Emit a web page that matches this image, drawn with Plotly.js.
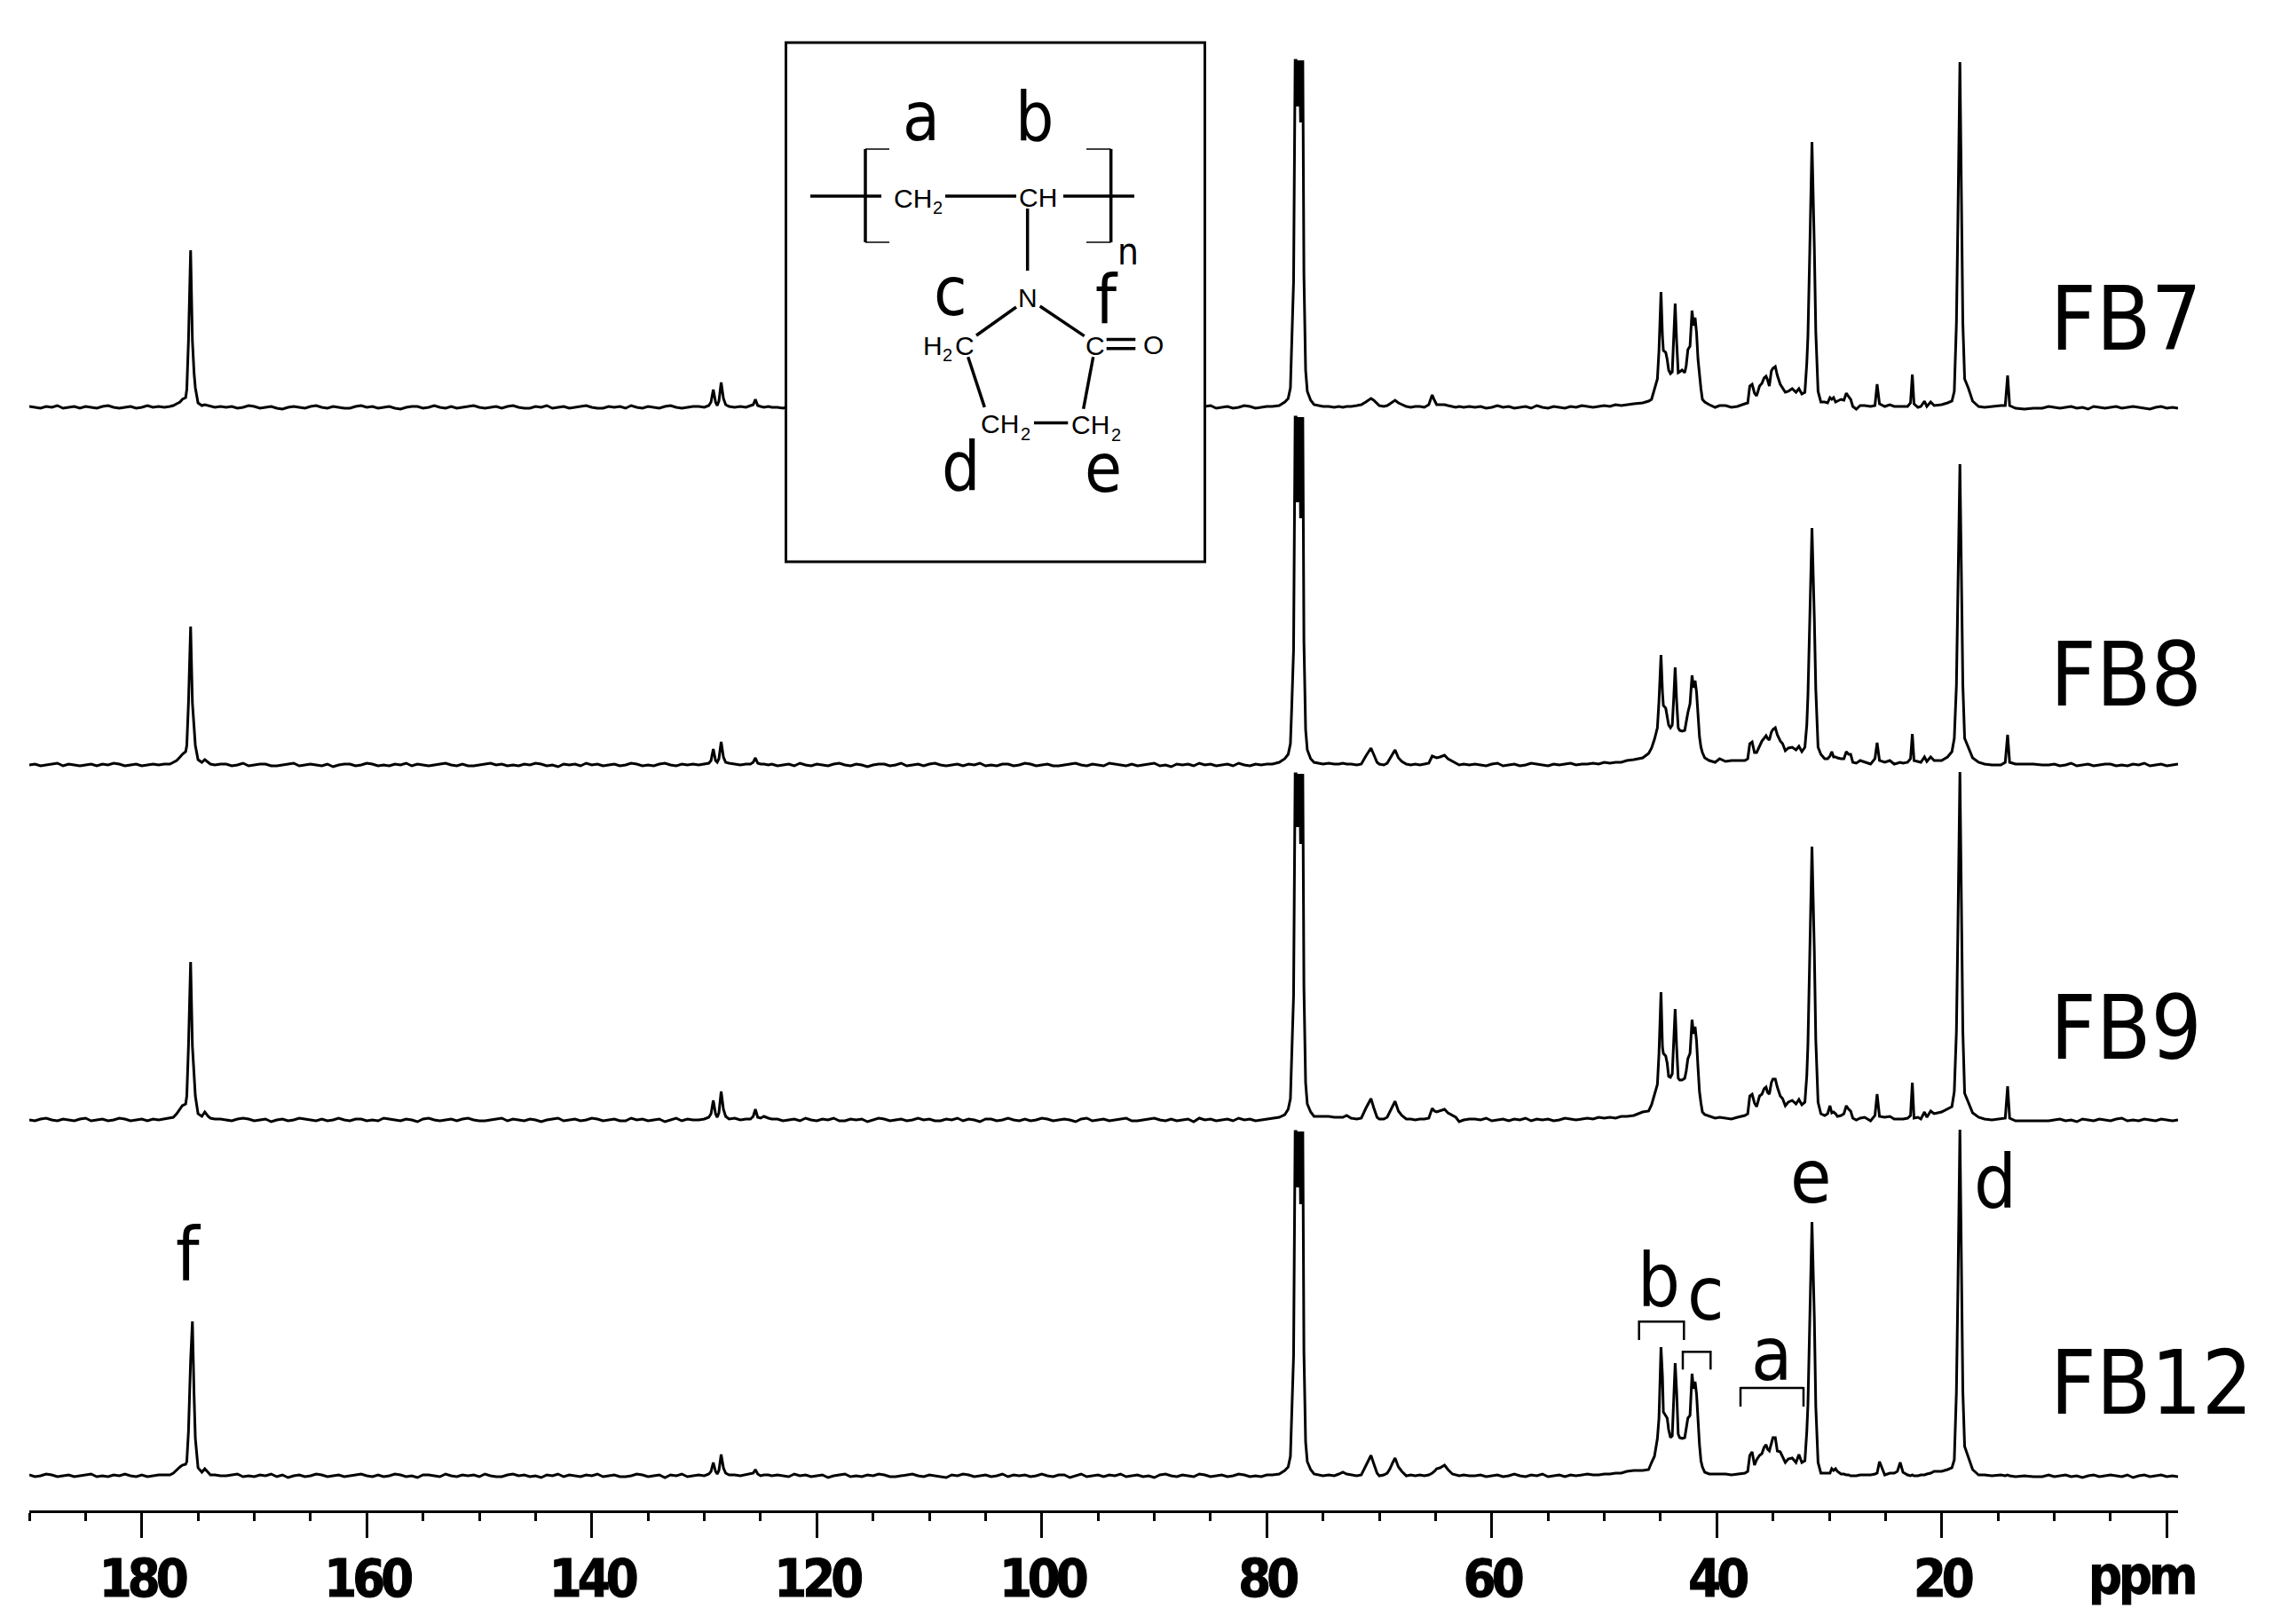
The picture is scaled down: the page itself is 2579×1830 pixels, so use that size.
<!DOCTYPE html>
<html>
<head>
<meta charset="utf-8">
<script src="https://cdn.plot.ly/plotly-3.0.1.min.js"></script>
<style>
html,body{margin:0;padding:0;background:#fff}
#chart{width:2579px;height:1830px}
.xtick text{letter-spacing:-5px;stroke:#000;stroke-width:1px}
</style>
</head>
<body>
<div id="chart"></div>
<script>
// ---- chemical shift grid, section by section (ppm) ----
const ppmA=[190,189.5,189,188.5,188,187.5,187,186.5,186,185.5,185,184.5,184,183.5,183,182.5,182,181.5,181,180.5,180,179.5,179,178.5,178];
const ppmF=[177.5,177.2,176.9,176.6,176.4,176.1,176.0,175.85,175.66,175.5,175.35,175.24,175.0,174.66,174.4,174.1,173.9,173.5,173];
const ppmB=[172.5,172,171.5,171,170.5,170,169.5,169,168.5,168,167.5,167,166.5,166,165.5,165,164.5,164,163.5,163,162.5,162,161.5,161,160.5,160,159.5,159,158.5,158,157.5,157,156.5,156,155.5,155,154.5,154,153.5,153,152.5,152,151.5,151,150.5,150,149.5,149,148.5,148,147.5,147,146.5,146,145.5,145,144.5,144,143.5,143,142.5,142,141.5,141,140.5,140,139.5,139,138.5,138,137.5,137,136.5,136,135.5,135,134.5,134,133.5,133,132.5,132,131.5,131];
const ppmAr=[130.5,130,129.6,129.4,129.2,129.0,128.85,128.7,128.5,128.3,128.1,127.8,127.3,126.8,126.3,125.9,125.65,125.46,125.25,125,124.7,124.3,124];
const ppmC=[123.5,123,122.5,122,121.5,121,120.5,120,119.5,119,118.5,118,117.5,117,116.5,116,115.5,115,114.5,114,113.5,113,112.5,112,111.5,111,110.5,110,109.5,109,108.5,108,107.5,107,106.5,106,105.5,105,104.5,104,103.5,103,102.5,102,101.5,101,100.5,100,99.5,99,98.5,98,97.5,97,96.5,96,95.5,95,94.5,94,93.5,93,92.5,92,91.5,91,90.5,90,89.5,89,88.5,88,87.5,87,86.5,86,85.5,85,84.5,84,83.5,83,82.5,82,81.5,81,80.5,80];
const ppmS=[79.5,78.9,78.4,78.1,77.9,77.78,77.62,77.48,77.40,77.32,77.24,77.16,77.08,77.0,76.92,76.86,76.80,76.7,76.55,76.4,76.1,75.8,75.4,75];
const ppmM=[74.5,74,73.6,73.24,72.9,72.5,72,71.6,71.2,70.95,70.74,70.5,70.2,70,69.6,69.3,69.05,68.8,68.6,68.3,68,67.6,67.2,66.8,66.4,66,65.6,65.3,65.1,64.9,64.6,64.2,63.9,63.5,63.2,62.9,62.5,62];
const ppmD=[61.5,61,60.5,60,59.5,59,58.5,58,57.5,57,56.5,56,55.5,55,54.5,54,53.5,53,52.5,52,51.5,51,50.5,50,49.5,49,48.5,48];
const ppmP=[47.38,46.59,46.06,45.80,45.54,45.28,45.14,44.96,44.83,44.75,44.54,44.41,44.28,44.12,43.96,43.83,43.70,43.57,43.43,43.30,43.09,42.85,42.72,42.57,42.38,42.20,42.07,41.93,41.80,41.67,41.54,41.41,41.28,41.07,40.67,40.15,39.75,39.22,38.70,38.17];
const ppmQ=[37.51,37.25,37.07,36.86,36.65,36.46,36.20,35.99,35.80,35.62,35.49,35.33,35.15,35.01,34.80,34.62,34.36,34.15,33.91,33.65,33.30,32.96,32.70,32.44];
const ppmE=[32.17,32.0,31.9,31.73,31.54,31.33,31.2,31.0,30.75,30.41,30.15,29.94,29.78,29.62,29.44,29.28,28.96,28.70,28.49,28.28,28.10,27.91,27.60,27.25,26.86,26.33,25.94,25.75,25.54,25.07,24.62,24.23,23.95,23.70,23.45,23.04,22.78,22.62,22.47,22.12,21.86,21.54,21.33,20.99,20.68,20.02,19.49,19.10];
const ppmG=[18.89,18.70,18.57,18.39,18.23,18.13,17.97,17.65,17.26,16.73,16.20,15.55,14.76,14.36,14.15,13.97,13.44,12.65,11.86,11.07];
const ppmZ=[10.5,10,9.5,9,8.5,8,7.5,7,6.5,6,5.5,5,4.5,4,3.5,3,2.5,2,1.5,1,0.5,0,-0.5,-1];

// ---- FB7 intensities ----
const fb7A=[1,0,-1,1,0,2,-1,0,1,-1,1,0,-1,1,2,0,-1,0,1,-1,0,2,0,1,0];
const fb7F=[1,2,4,6,9,11,20,75,177,75,38,22,5,2,3,2,1,0,1];
const fb7B=[0,1,-1,0,2,1,-1,0,1,-1,-2,0,1,0,-1,1,2,0,-1,1,0,-1,-1,1,2,0,1,-1,0,1,-1,-2,0,1,1,-1,0,2,0,-1,1,-1,0,1,2,0,-1,0,1,-1,1,2,0,-1,-1,1,0,2,-1,0,1,-1,0,1,2,0,-1,-1,1,0,1,-1,2,0,-1,1,0,-1,1,2,0,-1,0,1];
const fb7Ar=[1,0,2,6,20,6,2,7,28,10,3,1,0,1,0,2,3,9,2,1,0,1,0];
const fb7C=[0,-1,1,2,0,-1,1,-1,0,1,-1,-2,0,1,1,-1,0,2,1,-1,0,-1,1,0,2,0,-1,1,-1,0,1,2,-1,0,1,-1,-1,1,0,2,1,-1,0,1,-1,0,2,0,-1,1,1,-1,0,-2,1,0,2,-1,0,1,-1,1,0,2,0,-1,1,-1,0,1,2,-1,0,-1,1,0,1,2,-1,0,1,-1,0,2,1,-1,0,1];
const fb7S=[1,2,6,10,22,70,142,391,391,339,391,339,391,321,391,321,391,150,42,18,8,3,2,1];
const fb7M=[1,0,1,0,1,1,2,3,6,8,10,8,4,2,1,2,4,6,8,5,3,1,0,1,1,0,3,14,8,3,3,3,2,1,0,1,0,1];
const fb7D=[0,1,-1,0,2,0,1,-1,0,1,-1,2,0,-1,1,0,-1,1,0,2,1,0,1,2,1,3,2,3];
const fb7P=[4,5,7,9,21,32,64,130,80,64,62,54,42,38,40,74,117,74,39,40,42,39,47,65,69,109,92,101,84,54,34,21,9,6,3,0,2,2,0,1];
const fb7Q=[4,5,24,26,16,13,24,27,33,35,31,24,41,44,46,36,26,22,17,18,21,17,21,15];
const fb7E=[17,50,80,180,299,180,85,18,6,6,5,11,9,11,6,7,9,8,16,12,9,1,-2,2,2,1,2,26,4,1,3,1,1,1,1,1,5,37,4,0,1,7,1,6,2,3,5,7];
const fb7G=[18,95,210,389,210,95,32,22,7,1,0,1,2,2,36,2,-1,-2,-1,-1];
const fb7Z=[1,0,-1,0,1,-1,0,-2,1,0,-1,0,1,-1,0,1,0,-1,-2,0,1,-1,0,-1];

// ---- FB8 intensities ----
const fb8A=[0,1,-1,0,1,2,-1,1,0,-1,0,1,-1,1,0,2,1,-1,0,1,-1,0,1,0,1];
const fb8F=[1,3,5,9,12,15,22,70,156,70,35,22,6,3,6,3,1,0,1];
const fb8B=[1,-1,0,2,-1,0,1,1,-1,-1,0,1,2,-1,0,1,0,-1,1,-2,0,1,1,-1,0,2,1,-1,0,-1,1,0,2,-1,1,0,-1,0,1,2,0,-1,1,-1,-1,0,1,2,0,1,-1,0,-1,1,0,2,1,-1,0,-2,1,0,1,-1,2,0,1,-1,0,1,-1,0,2,1,-1,0,-1,1,2,0,-1,1,0,1];
const fb8Ar=[0,1,2,5,18,5,3,7,26,9,3,2,1,0,1,1,3,8,2,1,1,0,1];
const fb8C=[-1,0,1,-1,2,0,-1,1,0,-1,1,2,0,-1,1,0,-2,0,1,1,-1,0,2,-1,0,1,-1,1,2,0,-1,0,1,-1,1,0,2,-1,0,-1,1,1,-1,0,2,1,-1,0,1,-1,-1,0,1,2,0,-1,1,0,-1,2,1,0,-1,1,-1,0,1,2,-1,0,-2,1,0,1,-1,2,0,1,-1,0,1,-1,2,0,-1,1,0,1];
const fb8S=[1,3,7,12,24,66,130,392,392,296,392,296,392,278,392,278,392,140,40,17,7,3,2,1];
const fb8M=[2,1,1,2,1,1,0,1,10,15,19,12,3,1,0,2,7,13,17,8,4,1,0,1,0,1,2,10,9,8,9,11,7,4,2,0,1,0];
const fb8D=[1,0,-1,1,2,-1,0,1,-1,0,2,1,0,-1,1,0,1,2,0,1,1,2,1,3,2,3,3,5];
const fb8P=[6,8,13,19,29,42,72,124,82,67,64,55,45,42,45,75,110,72,42,39,38,39,49,59,69,101,87,95,82,55,32,20,14,8,5,3,7,4,5,5];
const fb8Q=[5,7,24,26,14,14,22,27,30,33,30,28,37,40,42,34,27,24,16,19,20,17,21,15];
const fb8E=[20,45,78,165,267,165,85,20,12,7,7,10,15,9,9,8,7,7,15,12,12,3,2,5,3,1,7,25,5,3,5,1,2,3,2,3,7,35,5,4,3,9,4,9,5,5,9,15];
const fb8G=[30,90,190,339,190,90,30,20,8,3,1,0,0,3,34,3,1,1,1,0];
const fb8Z=[0,1,-1,0,2,-1,0,1,-1,0,1,1,-1,0,-1,1,0,2,-1,0,1,-1,0,1];

// ---- FB9 intensities ----
const fb9A=[0,-1,1,2,0,-1,1,0,-1,1,2,-1,0,1,-1,0,2,1,-1,0,1,-1,1,0,1];
const fb9F=[2,3,7,12,16,18,27,83,178,83,45,27,7,4,9,4,2,1,1];
const fb9B=[0,-1,1,2,1,-1,0,1,-2,0,1,-1,0,2,1,0,-1,1,-1,0,2,0,-1,1,1,-1,0,-1,2,1,0,-1,1,0,-2,1,2,0,-1,0,1,-1,1,2,0,-1,-1,0,1,2,-1,1,0,-1,1,0,-2,0,1,2,-1,0,1,-1,0,2,1,-1,0,1,-1,-1,2,0,1,-1,0,1,-2,0,2,-1,1,0];
const fb9Ar=[0,1,3,7,22,7,3,8,32,12,4,1,2,0,1,1,4,12,3,2,4,2,1];
const fb9C=[1,-1,0,1,-1,2,0,-1,1,0,2,-1,-1,1,0,1,-2,0,2,1,-1,0,1,-1,0,2,0,1,-1,-1,1,0,2,-1,1,0,-2,1,1,-1,0,2,0,-1,1,-1,0,2,1,-1,0,1,0,-2,1,2,-1,0,1,-1,0,1,2,-1,-1,0,1,2,0,-1,1,-1,0,1,-2,2,0,1,-1,0,1,-1,2,0,1,-1,0,1];
const fb9S=[2,3,6,12,24,70,140,390,390,330,390,330,390,311,390,311,390,150,42,18,9,4,4,4];
const fb9M=[4,3,3,3,5,2,1,2,13,19,24,14,3,1,1,3,9,16,21,10,5,1,1,0,1,1,2,13,10,9,10,12,8,5,3,-2,0,1];
const fb9D=[1,0,2,-1,0,1,-1,1,0,2,-1,1,0,1,-1,0,2,1,0,1,2,1,3,2,3,2,4,4];
const fb9P=[5,9,10,17,29,40,75,144,82,75,72,64,49,48,52,89,125,82,47,45,45,47,55,69,75,113,97,105,89,59,32,19,9,6,4,2,3,2,1,3];
const fb9Q=[5,7,27,29,19,15,27,29,35,37,31,29,42,46,46,37,27,24,16,20,22,18,23,17];
const fb9E=[20,50,85,190,308,190,90,20,7,5,7,16,8,9,7,4,5,7,16,12,10,2,0,2,3,-1,5,29,4,3,4,1,1,1,1,2,5,42,2,3,1,9,3,10,7,9,12,15];
const fb9G=[32,100,215,392,215,100,30,20,8,3,1,0,1,2,38,2,-1,-1,-1,-1];
const fb9Z=[-1,0,1,-1,0,-2,1,0,-1,1,0,-1,1,2,-1,0,-1,1,0,-1,1,0,-1,0];

// ---- FB12 intensities ----
const fb12A=[1,-1,0,2,1,-1,0,1,-1,0,1,2,-1,0,-1,1,0,2,0,-1,1,-1,0,1,1];
const fb12F=[1,3,7,10,12,13,16,50,130,174,90,42,9,4,8,4,1,1,0];
const fb12B=[0,1,2,-1,0,-1,1,0,2,-1,1,-2,0,1,-1,0,2,1,-1,0,1,-1,0,1,2,0,-1,1,-1,0,2,1,-1,0,-2,1,1,0,-1,2,0,-1,1,0,1,-1,2,0,-1,-1,1,2,0,1,-1,0,-2,1,0,2,-1,1,0,-1,1,0,2,-1,0,1,-1,-1,0,2,1,-1,0,1,-2,1,0,2,-1,0];
const fb12Ar=[1,0,2,5,15,5,2,6,24,9,3,1,1,0,1,2,3,7,2,0,1,1,0];
const fb12C=[1,0,-1,2,0,1,-1,0,1,-2,0,1,2,-1,0,-1,1,0,2,1,-1,-1,0,1,2,0,-1,1,0,-1,-2,1,0,2,1,-1,0,1,-1,0,2,-1,1,0,1,-1,0,2,0,-1,1,1,-2,0,2,-1,0,1,-1,1,0,2,-1,0,1,-1,0,-2,1,2,0,-1,1,0,-1,2,1,-1,0,1,-1,0,2,1,-1,0,-1,1];
const fb12S=[1,2,6,10,22,66,135,388,388,325,388,325,388,306,388,306,388,140,38,16,7,2,1,0];
const fb12M=[1,0,2,4,2,1,0,1,12,18,23,14,3,0,1,3,8,15,20,10,5,0,1,0,1,0,1,3,5,8,9,12,7,2,1,0,1,0];
const fb12D=[0,1,-1,0,1,-1,0,2,0,-1,1,0,2,-1,0,1,-1,1,0,1,2,1,1,2,2,3,3,5];
const fb12P=[6,6,7,15,22,42,65,145,112,72,67,65,52,43,45,95,127,95,47,43,42,43,52,65,68,115,98,106,92,58,35,17,10,4,2,2,2,2,1,2];
const fb12Q=[3,5,23,27,12,18,23,25,32,35,30,28,37,43,43,28,27,22,15,19,20,15,24,15];
const fb12E=[17,50,80,178,286,178,78,15,3,3,3,3,8,6,8,5,2,2,1,1,0,0,0,1,1,1,2,3,16,1,3,3,5,15,4,1,0,1,0,0,1,1,2,3,5,5,7,9];
const fb12G=[18,95,210,390,210,95,33,22,7,1,1,0,1,0,1,0,-1,0,-1,-1];
const fb12Z=[1,-1,0,1,-1,0,-2,0,1,-1,0,1,0,-1,1,-2,0,1,-1,0,1,-1,0,-1];

const ppmSections=[ppmA,ppmF,ppmB,ppmAr,ppmC,ppmS,ppmM,ppmD,ppmP,ppmQ,ppmE,ppmG,ppmZ];
const fb7=[fb7A,fb7F,fb7B,fb7Ar,fb7C,fb7S,fb7M,fb7D,fb7P,fb7Q,fb7E,fb7G,fb7Z];
const fb8=[fb8A,fb8F,fb8B,fb8Ar,fb8C,fb8S,fb8M,fb8D,fb8P,fb8Q,fb8E,fb8G,fb8Z];
const fb9=[fb9A,fb9F,fb9B,fb9Ar,fb9C,fb9S,fb9M,fb9D,fb9P,fb9Q,fb9E,fb9G,fb9Z];
const fb12=[fb12A,fb12F,fb12B,fb12Ar,fb12C,fb12S,fb12M,fb12D,fb12P,fb12Q,fb12E,fb12G,fb12Z];

const seriesNames=['FB7','FB8','FB9','FB12'];
const seriesData=[fb7,fb8,fb9,fb12];
const stackOffsets=[1243,840,440,39];

const tickVals=[180,160,140,120,100,80,60,40,20,0];
const tickText=['180','160','140','120','100','80','60','40','20',''];

// geometry of the page
const W=2579,H=1830,L=33,R=2454,AXY=1702;
const px=X=>(X-L)/(R-L), py=Y=>(AXY-Y)/AXY;

const traces=seriesData.map((sections,i)=>{
  const x=[],y=[];
  sections.forEach((sec,k)=>{
    const n=Math.min(sec.length,ppmSections[k].length);
    for(let j=0;j<n;j++){x.push(ppmSections[k][j]);y.push(sec[j]+stackOffsets[i]);}
  });
  return {type:'scatter',mode:'lines',name:seriesNames[i],x,y,hoverinfo:'skip',
    line:{color:'#000',width:3,shape:'linear'},showlegend:false};
});

const seg=(x0,y0,x1,y1,w=3.5)=>({type:'line',xref:'paper',yref:'paper',layer:'above',
  x0:px(x0),y0:py(y0),x1:px(x1),y1:py(y1),line:{color:'#000',width:w}});

const shapes=[
  {type:'rect',xref:'paper',yref:'paper',layer:'above',x0:px(885.5),x1:px(1357.5),y0:py(48),y1:py(633),
    fillcolor:'#fff',line:{color:'#000',width:3}},
  seg(913,221,993,221),seg(1065,221,1145,221),seg(1198,221,1278,221),
  seg(1157.7,235,1157.7,305),
  seg(975,168,975,273),seg(975,168,1002,168,1.5),seg(975,273,1002,273,1.5),
  seg(1251.7,168,1251.7,273),seg(1224,168,1251.7,168,1.5),seg(1224,273,1251.7,273,1.5),
  seg(1145,346,1100,378),seg(1171.7,345,1221.7,378.6),
  seg(1090.7,402.3,1109.3,458.9),seg(1231.7,402.3,1220.7,460.8),
  seg(1165,476.6,1203.3,476.6),
  seg(1246.7,382.6,1279.3,382.6),seg(1246.7,392.8,1279.3,392.8),
  // peak group brackets
  seg(1846.7,1489.3,1897.3,1489.3,2.5),seg(1846.7,1488,1846.7,1510,2.5),seg(1897.3,1488,1897.3,1510,2.5),
  seg(1896,1523.3,1927.3,1523.3,2.5),seg(1896,1522,1896,1543.3,2.5),seg(1927.3,1522,1927.3,1543.3,2.5),
  seg(1961,1564,2032,1564,2.5),seg(1961,1563,1961,1585,2.5),seg(2032,1563,2032,1585,2.5)
];

const COND='DejaVu Sans Condensed, DejaVu Sans';
const lab=(text,X,Y,size,family=COND,anchor='center',weight=400)=>({
  text,xref:'paper',yref:'paper',x:px(X),y:py(Y),xanchor:anchor,yanchor:'middle',showarrow:false,
  font:{family,size,color:'#000',weight},borderpad:0,borderwidth:0});
const CHEM='Liberation Sans';
const annotations=[
  lab('FB7',2310,359,100,COND,'left'),
  lab('FB8',2310,760,100,COND,'left'),
  lab('FB9',2310,1158,100,COND,'left'),
  lab('FB12',2310,1558,100,COND,'left'),
  lab('f',212,1414,84),lab('e',2040,1326,84),lab('d',2248,1332,84),
  lab('b',1869,1443,84),lab('c',1922,1458,84),lab('a',1996,1526,84),
  lab('a',1038,131,76),lab('b',1165,131,76),lab('n',1271,283,42),
  lab('c',1071,328,76),lab('f',1247,337,76),lab('d',1082,525,76),lab('e',1243,527,76),
  lab('CH',1028,224,30,CHEM),lab('2',1056,234,20,CHEM),
  lab('CH',1169,222,30,CHEM),lab('N',1158,336,30,CHEM),
  lab('H',1050.5,389,30,CHEM),lab('2',1067.5,400,20,CHEM),lab('C',1086.5,389,30,CHEM),
  lab('C',1234,389,30,CHEM),lab('O',1299,388,30,CHEM),
  lab('CH',1126.7,477,30,CHEM),lab('2',1155,489,20,CHEM),
  lab('CH',1228,479,30,CHEM),lab('2',1257,490,20,CHEM),
  lab('ppm',2412,1775,59,COND,'center',700)
];

const layout={
  width:W,height:H,paper_bgcolor:'#fff',plot_bgcolor:'#fff',showlegend:false,
  margin:{l:L,r:W-R,t:0,b:H-AXY,pad:0},
  xaxis:{range:[190,-1],type:'linear',showgrid:false,zeroline:false,fixedrange:true,
    showline:true,linecolor:'#000',linewidth:3,
    tickmode:'array',tickvals:tickVals,ticktext:tickText,ticks:'outside',ticklen:28,tickwidth:3,tickcolor:'#000',
    tickangle:0,ticklabelstandoff:-5,tickfont:{family:COND,size:59,color:'#000',weight:700},
    minor:{tickmode:'linear',tick0:0,dtick:5,ticks:'outside',ticklen:9,tickwidth:3,tickcolor:'#000',showgrid:false}},
  yaxis:{range:[0,AXY],visible:false,fixedrange:true,showgrid:false,zeroline:false},
  shapes,annotations
};

Plotly.newPlot('chart',traces,layout,{staticPlot:true,displayModeBar:false}).then(()=>{
  document.querySelectorAll('.annotation-text').forEach(t=>{
    if(t.textContent==='ppm'){t.style.letterSpacing='-4px';t.style.stroke='#000';t.style.strokeWidth='1px';}
  });
});
</script>
</body>
</html>
